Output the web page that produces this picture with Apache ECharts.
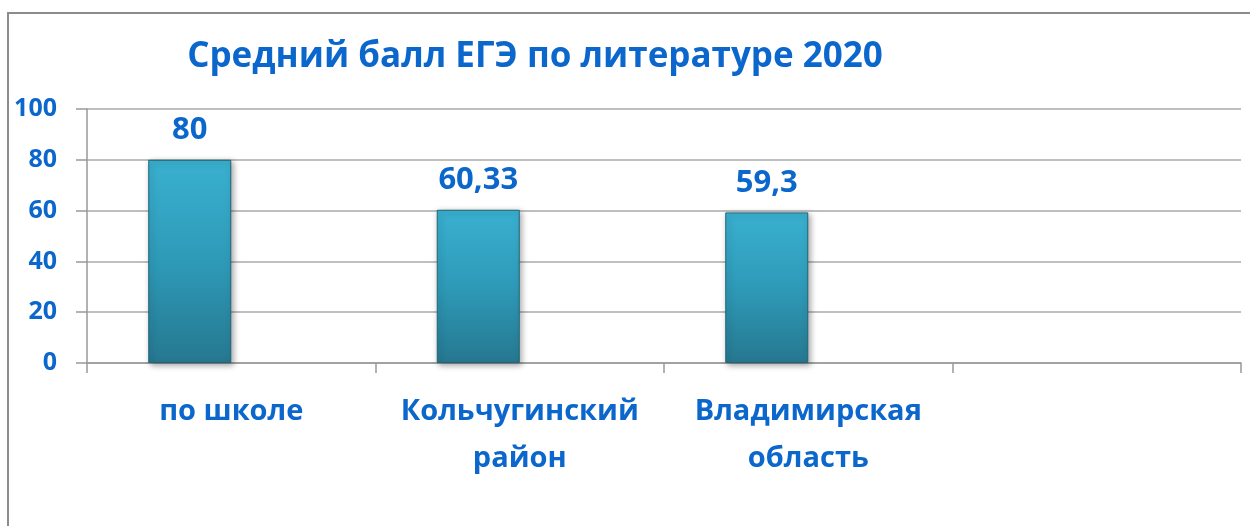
<!DOCTYPE html>
<html>
<head>
<meta charset="utf-8">
<script src="https://cdn.jsdelivr.net/npm/echarts@6/dist/echarts.min.js"></script>
<style>
  html, body { margin: 0; padding: 0; background: #fff; }
  #chart { width: 1250px; height: 526px; }
</style>
</head>
<body>
<div id="chart"></div>
<script>
// data
var categories = ['по школе', 'Кольчугинский\nрайон', 'Владимирская\nобласть', ''];
var scores = [80, 60.33, 59.3, null];
// the source chart has a second, empty series: bars sit left of category centre
var blank = [null, null, null, null];
var yTicks = { min: 0, max: 100, interval: 20 };

var blue = '#0b67cc';
var font = '"Open Sans", sans-serif';

var myChart = echarts.init(document.getElementById('chart'));

var option = {
  backgroundColor: '#fff',
  animation: false,
  title: {
    text: 'Средний балл ЕГЭ по литературе 2020',
    left: 530,
    top: 35,
    textAlign: 'center',
    textStyle: { color: blue, fontFamily: font, fontWeight: 'bold', fontSize: 35 }
  },
  graphic: [{
    type: 'polyline',
    shape: { points: [[8, 526], [8, 13], [1252, 13]] },
    style: { fill: null, stroke: '#8c8c8c', lineWidth: 2 }
  }],
  grid: { left: 87, right: 9, top: 109, bottom: 163 },
  xAxis: {
    type: 'category',
    data: categories,
    axisLine: { lineStyle: { color: '#999', width: 1.5 } },
    axisTick: { show: true, length: 10, lineStyle: { color: '#999', width: 1.5 } },
    axisLabel: {
      color: blue, fontFamily: font, fontWeight: 'bold', fontSize: 29,
      margin: 25, lineHeight: 47, interval: 0
    }
  },
  yAxis: {
    type: 'value',
    min: yTicks.min,
    max: yTicks.max,
    interval: yTicks.interval,
    axisLine: { show: true, lineStyle: { color: '#999', width: 1.5 } },
    axisTick: { show: true, length: 11, lineStyle: { color: '#999', width: 1.5 } },
    splitLine: { lineStyle: { color: '#aaa', width: 1.5 } },
    axisLabel: { color: blue, fontFamily: font, fontWeight: 'bold', fontSize: 25, margin: 30 }
  },
  series: [{
    type: 'bar',
    data: scores,
    barWidth: 83,
    barGap: '0%',
    itemStyle: {
      color: new echarts.graphic.LinearGradient(0, 0, 0, 1, [
        { offset: 0, color: '#3ab0d0' },
        { offset: 0.5, color: '#2e9ab8' },
        { offset: 1, color: '#267890' }
      ]),
      borderColor: '#1f6577',
      borderWidth: 1,
      shadowColor: 'rgba(0,0,0,0.35)',
      shadowBlur: 6,
      shadowOffsetX: 2,
      shadowOffsetY: 2
    },
    label: {
      show: true,
      position: 'top',
      distance: 14,
      color: blue,
      fontFamily: font,
      fontWeight: 'bold',
      fontSize: 31,
      formatter: function (p) {
        return String(p.value).replace('.', ',');
      }
    }
  }, {
    type: 'bar',
    data: blank,
    barWidth: 83,
    barGap: '0%'
  }]
};

myChart.setOption(option);
</script>
</body>
</html>
